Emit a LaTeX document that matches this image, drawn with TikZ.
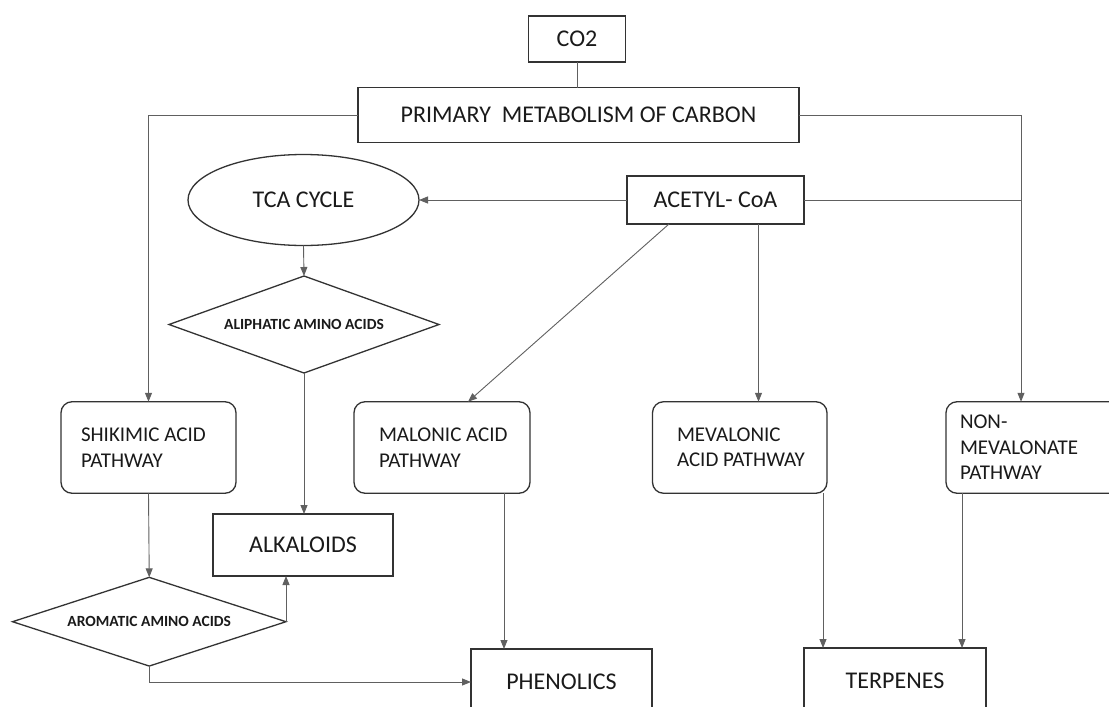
\documentclass[tikz,border=0pt]{standalone}
\usepackage{fontspec}
\setmainfont{Carlito}
\usetikzlibrary{arrows.meta,shapes.geometric,calc}
\definecolor{boxline}{HTML}{333333}
\definecolor{linkline}{HTML}{606060}
\definecolor{inkc}{HTML}{1A1A1A}

\begin{document}
\begin{tikzpicture}[x=1pt,y=-1pt,
  every node/.style={text=inkc, inner sep=0pt, outer sep=0pt},
  outline/.style={draw=boxline, line width=1.3pt},
  box/.style={outline, rectangle, font=\fontsize{24}{28}\selectfont},
  oval/.style={outline, ellipse, font=\fontsize{24}{28}\selectfont},
  pathbox/.style={outline, rectangle, rounded corners=11pt, minimum height=91.5pt},
  pathtext/.style={align=left, anchor=west, font=\fontsize{21}{25.5}\selectfont},
  dia/.style={outline, diamond, font=\bfseries\fontsize{15.5}{18}\selectfont},
  link/.style={draw=linkline, line width=0.9pt},
  arr/.style={link, -{Triangle[length=9pt,width=7pt]}},
]
% canvas
\fill[white] (0,0) rectangle (1109,707);
\useasboundingbox (0,0) rectangle (1109,707);
\clip (0,0) rectangle (1109,707);

% top of the chart
\node[box, minimum width=97pt, minimum height=46pt] (co2) at (577,39) {CO2};
\node[box, minimum width=441pt, minimum height=55pt] (primary) at (578.5,115) {PRIMARY\ \ METABOLISM OF CARBON};
\node[oval, minimum width=231pt, minimum height=91pt] (tca) at (303.5,200) {TCA CYCLE};
\node[box, minimum width=177pt, minimum height=48pt] (acetyl) at (715.5,200) {ACETYL- CoA};

% amino acids and alkaloids
\node[dia, aspect=2.78, minimum width=270pt, minimum height=97pt] (aliph) at (304,324.5) {ALIPHATIC AMINO ACIDS};
\node[box, minimum width=180pt, minimum height=62pt] (alk) at (303,545) {ALKALOIDS};
\node[dia, aspect=3.08, minimum width=273.5pt, minimum height=88.7pt] (arom) at (149.25,621.7) {AROMATIC AMINO ACIDS};

% pathways
\node[pathbox, minimum width=175pt] (shik) at (148.5,447.5) {};
\node[pathtext] (shikt) at ([xshift=20pt]shik.west) {SHIKIMIC ACID\\PATHWAY};
\node[pathbox, minimum width=176pt] (mal) at (442,447.5) {};
\node[pathtext] (malt) at ([xshift=25pt]mal.west) {MALONIC ACID\\PATHWAY};
\node[pathbox, minimum width=174.5pt] (mev) at (739.75,447.5) {};
\node[pathtext] (mevt) at ([xshift=24.5pt]mev.west) {MEVALONIC\\ACID PATHWAY};
\node[pathbox, minimum width=180pt] (nonmev) at (1036,447.5) {};
\node[pathtext] (nonmevt) at ([xshift=14pt]nonmev.west) {NON-\\MEVALONATE\\PATHWAY};

% products
\node[box, minimum width=181pt, minimum height=66pt] (phen) at (561.5,682) {PHENOLICS};
\node[box, minimum width=182pt, minimum height=66pt] (terp) at (895,681) {TERPENES};

% connectors
\coordinate (rdrop) at ([xshift=75pt]nonmev.north west);
\draw[link] (co2.south) -- (co2.south |- primary.north);
\draw[arr] (primary.west) -| (shik.north);
\draw[arr] (primary.east) -| (rdrop);
\draw[link] (acetyl.east) -- (acetyl.east -| rdrop);
\draw[arr] (acetyl.west) -- (tca.east);
\draw[arr] ([xshift=42pt]acetyl.south west) -- ([xshift=114pt]mal.north west);
\draw[arr] ([xshift=131.5pt]acetyl.south west) -- ([xshift=131.5pt]acetyl.south west |- mev.north);
\draw[arr] (tca.south) -- (aliph.north);
\draw[arr] (aliph.south) -- (aliph.south |- alk.north);
\draw[arr] (shik.south) -- (arom.north);
\draw[arr] (arom.east) -- (arom.east |- alk.south);
\draw[arr] (arom.south) |- (phen.west);
\draw[arr] ([xshift=150pt]mal.south west) -- ([xshift=150pt]mal.south west |- phen.north);
\draw[arr] ([xshift=170.5pt]mev.south west) -- ([xshift=170.5pt]mev.south west |- terp.north);
\draw[arr] ([xshift=16pt]nonmev.south west) -- ([xshift=16pt]nonmev.south west |- terp.north);
\end{tikzpicture}
\end{document}
